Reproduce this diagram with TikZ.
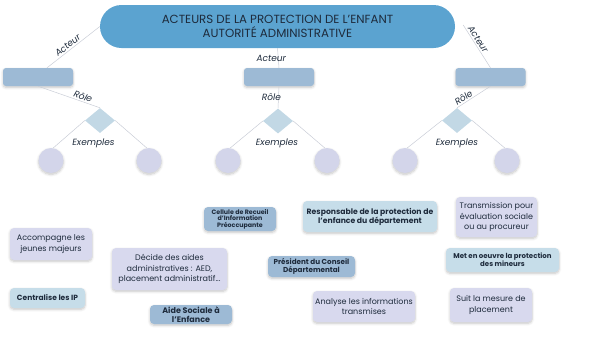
\documentclass[tikz,border=0pt]{standalone}
\usepackage{fontspec}
\setmainfont{Poppins}
\usetikzlibrary{shapes.geometric,shadows.blur}
\definecolor{titlec}{HTML}{5BA3D0}
\definecolor{medblue}{HTML}{9DBAD5}
\definecolor{diac}{HTML}{C2D8E5}
\definecolor{circc}{HTML}{D3D5EA}
\definecolor{lav}{HTML}{D8D9EE}
\definecolor{lblue}{HTML}{C6DDE9}
\definecolor{linec}{HTML}{C9CDD6}
\definecolor{txt}{HTML}{1E2B3C}
\tikzset{
  shad/.style={blur shadow={shadow xshift=0pt,shadow yshift=-1.5pt,shadow blur steps=6,shadow opacity=22,shadow blur radius=2.5pt}},
  titlebox/.style={fill=titlec,rounded corners=21.5pt,minimum width=355pt,minimum height=43pt,inner sep=0pt,align=center,text=txt,font=\fontsize{11.8}{14}\selectfont},
  rolebox/.style={fill=medblue,rounded corners=3pt,minimum width=70pt,minimum height=18pt,inner sep=0pt,shad},
  diabox/.style={diamond,fill=diac,minimum width=30pt,minimum height=25pt,inner sep=0pt},
  circbox/.style={circle,fill=circc,minimum size=25pt,inner sep=0pt,shad},
  conn/.style={draw=linec,line width=0.5pt},
  lab/.style={font=\fontsize{9}{10}\selectfont\itshape,text=txt,inner sep=1.5pt},
  cardbase/.style={rounded corners=4pt,inner sep=0pt,align=center,text=txt,shad},
  lavcard/.style={cardbase,fill=lav,font=\fontsize{8}{10.7}\selectfont},
  lbcard/.style={cardbase,fill=lblue,font=\fontsize{7}{8.5}\selectfont\bfseries},
  mbcard/.style={cardbase,fill=medblue,font=\fontsize{7}{8.5}\selectfont\bfseries}
}
\begin{document}
\begin{tikzpicture}[x=1pt,y=-1pt]
\useasboundingbox (0,0) rectangle (600,338);
% top
\node[titlebox] (title) at (277.5,26.5) {ACTEURS DE LA PROTECTION DE L'ENFANT\\AUTORITÉ ADMINISTRATIVE};
\node[rolebox] (lbox) at (38,77) {};
\node[rolebox] (mbox) at (279,77) {};
\node[rolebox] (rbox) at (490.5,77) {};
\node[diabox] (ldia) at (100,120.5) {};
\node[diabox] (mdia) at (278,121) {};
\node[diabox] (rdia) at (457,120.5) {};
\node[circbox] (c1) at (51,160.5) {};
\node[circbox] (c2) at (149,160.5) {};
\node[circbox] (c3) at (228,160.5) {};
\node[circbox] (c4) at (327,160.5) {};
\node[circbox] (c5) at (405,160.5) {};
\node[circbox] (c6) at (507,160.5) {};
\coordinate (tr) at ([xshift=8pt,yshift=1.5pt]title.east);
\coordinate (lboxt) at ([xshift=9pt]lbox.north);
% connectors
\draw[conn] (title.west) -- node[lab,sloped,above,pos=0.55] {Acteur} (lboxt);
\draw[conn] (title.south) -- node[lab,pos=0.5,xshift=-7pt] {Acteur} (mbox.north);
\draw[conn] (tr) -- node[lab,sloped,above,pos=0.4] {Acteur} (rbox.north);
\draw[conn] (lbox.south) -- node[lab,sloped,above,pos=0.7] {Rôle} (ldia.north);
\draw[conn] (mbox.south) -- node[lab,pos=0.5,xshift=-7pt] {Rôle} (mdia.north);
\draw[conn] (rbox.south) -- node[lab,sloped,above,pos=0.72] {Rôle} (rdia.north);
\draw[conn] (ldia.west) -- (c1.80);
\draw[conn] (ldia.east) -- (c2.100);
\draw[conn] (mdia.west) -- (c3.80);
\draw[conn] (mdia.east) -- (c4.100);
\draw[conn] (rdia.west) -- (c5.80);
\draw[conn] (rdia.east) -- (c6.100);
\node[lab] (ex1) at (93.5,143) {Exemples};
\node[lab] (ex2) at (277,143) {Exemples};
\node[lab] (ex3) at (457,143) {Exemples};
% cards
\node[lavcard,minimum width=82pt,minimum height=32pt] (acc) at (51,244) {Accompagne les\\jeunes majeurs};
\node[lbcard,minimum width=75pt,minimum height=20pt,font=\fontsize{7.5}{8.5}\selectfont\bfseries] (cent) at (47.5,298) {Centralise les IP};
\node[lavcard,minimum width=115pt,minimum height=42pt] (dec) at (169.5,269) {Décide des aides\\administratives : AED,\\placement administratif...};
\node[mbcard,minimum width=82pt,minimum height=19pt,font=\fontsize{8}{9}\selectfont\bfseries] (ase) at (191,314.5) {Aide Sociale à\\l'Enfance};
\node[mbcard,minimum width=72pt,minimum height=24pt,font=\fontsize{6.3}{6.4}\selectfont\bfseries] (crip) at (240,219) {Cellule de Recueil\\d'Information\\Préoccupante};
\node[mbcard,minimum width=87pt,minimum height=21pt,font=\fontsize{7.2}{8}\selectfont\bfseries] (pcd) at (311.5,266.5) {Président du Conseil\\Départemental};
\node[lbcard,minimum width=134pt,minimum height=31pt,font=\fontsize{7.7}{9}\selectfont\bfseries] (resp) at (370,216.5) {Responsable de la protection de\\l'enfance du département};
\node[lavcard,minimum width=102pt,minimum height=31pt] (ana) at (364,306.5) {Analyse les informations\\transmises};
\node[lavcard,minimum width=81pt,minimum height=40pt] (trans) at (496.5,217) {Transmission pour\\évaluation sociale\\ou au procureur};
\node[lbcard,minimum width=113pt,minimum height=24pt,font=\fontsize{7}{8}\selectfont\bfseries] (met) at (502.5,260) {Met en oeuvre la protection\\des mineurs};
\node[lavcard,minimum width=82pt,minimum height=34pt] (suit) at (491,305) {Suit la mesure de\\placement};
\end{tikzpicture}
\end{document}
